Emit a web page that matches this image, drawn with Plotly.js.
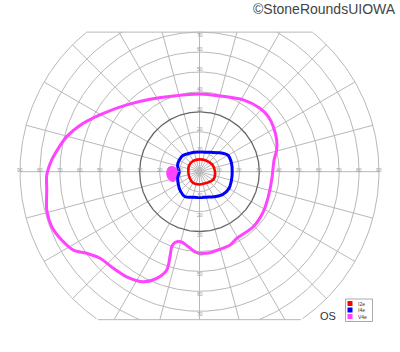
<!DOCTYPE html>
<html>
<head>
<meta charset="utf-8">
<script src="https://cdn.plot.ly/plotly-3.0.1.min.js"></script>
<style>html,body{margin:0;padding:0;background:#fff;}#chart{width:400px;height:352px;}</style>
</head>
<body>
<div id="chart"></div>
<script>
// ---- Data (degrees of visual field) ----
const isopterNames = ['I2e', 'I4e', 'V4e'];
const isopterColors = ['#ff0000', '#0000ff', '#ff44ff'];

// I2e isopter: meridian angle (deg) and eccentricity (deg)
const i2eAngle = [0, 30, 60, 90, 120, 150, 180, 210, 240, 270, 300, 330];
const i2eRadius = [7.8, 7.3, 6.5, 6.2, 6.3, 6.1, 5.6, 5.8, 6.5, 6.4, 6.6, 8.0];

// I4e isopter
const i4eAngle = [0, 15, 30, 45, 60, 75, 90, 105, 120, 135, 150, 165, 180, 195, 210, 225, 240, 255, 270, 285, 300, 315, 330, 345];
const i4eRadius = [16.4, 16.6, 16.5, 13.5, 11.2, 10.1, 9.9, 10.1, 10.6, 11.6, 11.7, 11.4, 10.1, 11.3, 12.3, 13.6, 14.5, 13.3, 12.9, 13.2, 14.5, 16.3, 17.0, 16.6];

// V4e isopter (x = horizontal deg, y = vertical deg)
const v4eX = [36.7, 37.4, 38.7, 38.7, 37.0, 34.5, 30.3, 22.0, 10.3, 0.3, -13.1, -24.8, -36.5, -48.2, -58.3, -66.6, -70.8, -74.1, -76.6, -76.6, -76.6, -74.1, -69.1, -63.3, -56.6, -49.9, -43.2, -36.5, -28.2, -21.5, -16.4, -14.8, -13.9, -12.3, -9.3, -5.6, -1.4, 5.3, 10.3, 15.3, 18.7, 27.0, 32.0, 34.5, 36.2, 36.7];
const v4eY = [0, 5.9, 10.9, 15.9, 22.6, 27.6, 31.8, 36.0, 38.0, 39.0, 38.0, 36.3, 33.5, 29.3, 24.3, 17.6, 11.7, 5.9, -1.7, -9.2, -19.2, -27.6, -34.3, -39.3, -40.9, -43.4, -48.4, -52.7, -55.2, -53.5, -49.3, -42.6, -37.6, -35.5, -35.1, -37.6, -40.6, -40.6, -38.9, -36.8, -33.4, -27.6, -20.1, -12.5, -4.2, 0];

// V4e blind spot
const blindX = [-13.7, -11.9, -11.1, -11.3, -12.9, -14.8, -16.3, -16.2, -15.3, -13.7];
const blindY = [2.6, 1.9, -0.4, -3.2, -4.9, -4.4, -2.0, 0.9, 2.3, 2.6];

// grid and tick labels
const ringRadii = [10, 20, 30, 40, 50, 60, 70, 80, 90];
const horizLabels = [10, 20, 30, 40, 50, 60, 70, 80, 90];
const vertLabels = [10, 20, 30, 40, 50, 60, 70];
const topLimit = 70, bottomLimit = -74.2, outerR = 90;

// ---- helpers ----
const rad = d => d * Math.PI / 180;
function polarToXY(angles, radii) {
  const x = [], y = [];
  angles.forEach((a, i) => { x.push(radii[i] * Math.cos(rad(a))); y.push(radii[i] * Math.sin(rad(a))); });
  x.push(x[0]); y.push(y[0]);
  return {x, y};
}
function ringPath(r) {
  const x = [], y = [];
  let prevIn = false;
  for (let a = 0; a <= 360; a += 1) {
    const px = r * Math.cos(rad(a)), py = r * Math.sin(rad(a));
    const inside = py <= topLimit + 1e-9 && py >= bottomLimit - 1e-9;
    if (inside) { x.push(px); y.push(py); }
    else if (prevIn) { x.push(null); y.push(null); }
    prevIn = inside;
  }
  x.push(null); y.push(null);
  return {x, y};
}

// grid trace
const gx = [], gy = [];
ringRadii.filter(r => r !== 30).forEach(r => { const p = ringPath(r); gx.push(...p.x); gy.push(...p.y); });
for (let a = 0; a < 360; a += 15) {
  const c = Math.cos(rad(a)), s = Math.sin(rad(a));
  let t = outerR;
  if (s > 1e-9 && outerR * s > topLimit) t = topLimit / s;
  if (s < -1e-9 && outerR * s < bottomLimit) t = bottomLimit / s;
  gx.push(0, t * c, null); gy.push(0, t * s, null);
}
const wTop = Math.sqrt(outerR * outerR - topLimit * topLimit);
const wBot = Math.sqrt(outerR * outerR - bottomLimit * bottomLimit);
gx.push(-wTop, wTop, null, -wBot, wBot, null);
gy.push(topLimit, topLimit, null, bottomLimit, bottomLimit, null);

const ring30 = ringPath(30);
const i2e = polarToXY(i2eAngle, i2eRadius);
const i4e = polarToXY(i4eAngle, i4eRadius);

const traces = [
  {x: gx, y: gy, mode: 'lines', line: {color: '#b8b8b8', width: 1}, hoverinfo: 'skip', showlegend: false},
  {x: ring30.x, y: ring30.y, mode: 'lines', line: {color: '#666666', width: 1.3}, hoverinfo: 'skip', showlegend: false},
  {x: v4eX, y: v4eY, mode: 'lines', name: isopterNames[2], line: {color: isopterColors[2], width: 3, shape: 'spline', smoothing: 0.8}, showlegend: false},
  {x: blindX, y: blindY, mode: 'lines', fill: 'toself', fillcolor: isopterColors[2], line: {color: isopterColors[2], width: 1, shape: 'spline'}, showlegend: false},
  {x: i4e.x, y: i4e.y, mode: 'lines', name: isopterNames[1], line: {color: isopterColors[1], width: 3, shape: 'spline', smoothing: 0.9}, showlegend: false},
  {x: i2e.x, y: i2e.y, mode: 'lines', name: isopterNames[0], line: {color: isopterColors[0], width: 2.6, shape: 'spline', smoothing: 1}, showlegend: false}
];

const labelFont = {family: 'Liberation Sans, Arial, sans-serif', size: 5, color: '#999999'};
const annotations = [];
horizLabels.forEach(v => {
  [-v, v].forEach(xv => annotations.push({x: xv, y: 1.1, xref: 'x', yref: 'y', text: String(v), showarrow: false, font: labelFont, xanchor: 'center', yanchor: 'middle'}));
});
vertLabels.forEach(v => {
  const yt = v === 70 ? v - 1.3 : v + 1.5;
  annotations.push({x: 0, y: yt, xref: 'x', yref: 'y', text: String(v), showarrow: false, font: labelFont, xanchor: 'center', yanchor: 'middle'});
  annotations.push({x: 0, y: -(v + 1.5), xref: 'x', yref: 'y', text: String(v), showarrow: false, font: labelFont, xanchor: 'center', yanchor: 'middle'});
});
const W = 400, H = 352;
annotations.push({x: 398 / W, y: 1 - 9 / H, xref: 'paper', yref: 'paper', text: '©StoneRoundsUIOWA', showarrow: false, xanchor: 'right', yanchor: 'middle', font: {family: 'Liberation Sans, Arial, sans-serif', size: 14, color: '#444444'}});
annotations.push({x: 328 / W, y: 1 - 316 / H, xref: 'paper', yref: 'paper', text: 'OS', showarrow: false, xanchor: 'center', yanchor: 'middle', font: {family: 'Liberation Sans, Arial, sans-serif', size: 11, color: '#333333'}});

// manual legend
const shapes = [{type: 'rect', xref: 'paper', yref: 'paper', x0: 345.5 / W, x1: 372.5 / W, y0: 1 - 321.5 / H, y1: 1 - 299 / H, line: {color: '#aaaaaa', width: 1}, fillcolor: '#ffffff'}];
const legendRows = [303.5, 310, 316.5];
isopterNames.forEach((n, i) => {
  const cy = legendRows[i];
  shapes.push({type: 'rect', xref: 'paper', yref: 'paper', x0: 347.5 / W, x1: 352.5 / W, y0: 1 - (cy + 2.5) / H, y1: 1 - (cy - 2.5) / H, line: {width: 0}, fillcolor: isopterColors[i]});
  annotations.push({x: 356 / W, y: 1 - cy / H, xref: 'paper', yref: 'paper', text: n, showarrow: false, xanchor: 'left', yanchor: 'middle', font: {family: 'Liberation Sans, Arial, sans-serif', size: 5, color: '#333333'}});
});

const layout = {
  width: W, height: H,
  margin: {l: 0, r: 0, t: 0, b: 0},
  paper_bgcolor: '#ffffff', plot_bgcolor: '#ffffff',
  xaxis: {range: [-100.05, 100.55], visible: false, fixedrange: true},
  yaxis: {range: [-90.42, 86.11], visible: false, fixedrange: true},
  showlegend: false,
  annotations, shapes
};
Plotly.newPlot('chart', traces, layout, {staticPlot: true, displayModeBar: false});
</script>
</body>
</html>
